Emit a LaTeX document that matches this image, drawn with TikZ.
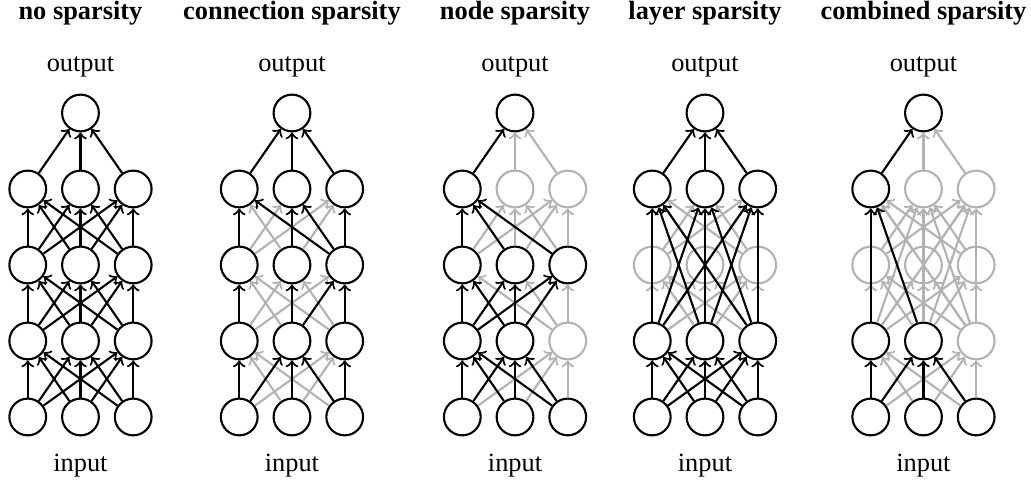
\documentclass[tikz,border=0pt]{standalone}
\usepackage{fontspec}
\setmainfont{Liberation Serif}
\usepackage{tikz}
\usetikzlibrary{arrows,
  calc,
  positioning
}
\tikzset{
  neuron/.style={circle, draw=black, line width=0.8pt, minimum size=0.49cm, inner sep=0pt},
  off/.style={draw=black!30},
  conn/.style={->, line width=0.8pt, color=black},
  offconn/.style={->, line width=0.8pt, color=black!30},
  heading/.style={anchor=base, font=\bfseries},
  io/.style={anchor=base}
}
\newcommand*{\network}[3]{%
  \node[heading] (#1-title) at (#2, 6.173) {#3};
  \node[io] (#1-output) at (#2, 5.471) {output};
  \node[io] (#1-input) at (#2, 0.137) {input};
  \foreach \l in {1,...,4} {
    \foreach \c in {1,2,3} {
      \node[neuron, #1-\l-\c/.try] (#1-\l-\c)
      at ({#2 + (\c - 2) * \colsep}, {\rowbase + (\l - 1) * \rowsep}) {};
    }
  }
  \node[neuron] (#1-5-2) at (#2, {\rowbase + 4 * \rowsep}) {};
}

\begin{document}
\begin{tikzpicture}
  \pgfmathsetmacro{\colsep}{0.703}
  \pgfmathsetmacro{\rowsep}{1.0133}
  \pgfmathsetmacro{\rowbase}{0.867}
  \useasboundingbox (0, 0) rectangle (13.747, 6.427);

  % switched off neurons
  \tikzset{
    p3-2-3/.style={off}, p3-4-2/.style={off}, p3-4-3/.style={off},
    p4-3-1/.style={off}, p4-3-2/.style={off}, p4-3-3/.style={off},
    p5-2-3/.style={off}, p5-3-1/.style={off}, p5-3-2/.style={off},
    p5-3-3/.style={off}, p5-4-2/.style={off}, p5-4-3/.style={off}
  }

  \network{p1}{1.073}{no sparsity}
  \network{p2}{3.893}{connection sparsity}
  \network{p3}{6.867}{node sparsity}
  \network{p4}{9.4}{layer sparsity}
  \network{p5}{12.313}{combined sparsity}

  % no sparsity
  \foreach \l/\m in {1/2, 2/3, 3/4}
  \foreach \s in {1,2,3}
  \foreach \t in {1,2,3}
  \draw[conn] (p1-\l-\s) -- (p1-\m-\t);
  \foreach \s in {1,2,3}
  \draw[conn] (p1-4-\s) -- (p1-5-2);

  % connection sparsity
  \foreach \s/\t in {1-1/2-3, 1-2/2-1, 1-2/2-3, 1-3/2-1,
    2-1/3-2, 2-1/3-3, 2-2/3-1, 2-3/3-1, 2-3/3-2,
    3-1/4-2, 3-1/4-3, 3-2/4-1, 3-2/4-3}
  \draw[offconn] (p2-\s) -- (p2-\t);
  \foreach \s/\t in {1-1/2-1, 1-1/2-2, 1-2/2-2, 1-3/2-2, 1-3/2-3,
    2-1/3-1, 2-2/3-2, 2-2/3-3, 2-3/3-3,
    3-1/4-1, 3-2/4-2, 3-3/4-1, 3-3/4-2, 3-3/4-3,
    4-1/5-2, 4-2/5-2, 4-3/5-2}
  \draw[conn] (p2-\s) -- (p2-\t);

  % node sparsity
  \foreach \s/\t in {1-1/2-3, 1-2/2-3, 1-3/2-3,
    2-3/3-1, 2-3/3-2, 2-3/3-3,
    3-1/4-2, 3-1/4-3, 3-2/4-2, 3-2/4-3, 3-3/4-2, 3-3/4-3,
    4-2/5-2, 4-3/5-2}
  \draw[offconn] (p3-\s) -- (p3-\t);
  \foreach \s/\t in {1-1/2-1, 1-2/2-1, 1-3/2-1, 1-1/2-2, 1-2/2-2, 1-3/2-2,
    2-1/3-1, 2-1/3-2, 2-1/3-3, 2-2/3-1, 2-2/3-2, 2-2/3-3,
    3-1/4-1, 3-2/4-1, 3-3/4-1,
    4-1/5-2}
  \draw[conn] (p3-\s) -- (p3-\t);

  % layer sparsity
  \foreach \l/\m in {2/3, 3/4}
  \foreach \s in {1,2,3}
  \foreach \t in {1,2,3}
  \draw[offconn] (p4-\l-\s) -- (p4-\m-\t);
  \foreach \l/\m in {1/2, 2/4}
  \foreach \s in {1,2,3}
  \foreach \t in {1,2,3}
  \draw[conn] (p4-\l-\s) -- (p4-\m-\t);
  \foreach \s in {1,2,3}
  \draw[conn] (p4-4-\s) -- (p4-5-2);

  % combined sparsity
  \foreach \l/\m in {2/3, 3/4}
  \foreach \s in {1,2,3}
  \foreach \t in {1,2,3}
  \draw[offconn] (p5-\l-\s) -- (p5-\m-\t);
  \foreach \s/\t in {1-2/2-1, 1-3/2-1, 1-1/2-3, 1-2/2-3, 1-3/2-3,
    2-1/4-2, 2-1/4-3, 2-2/4-2, 2-2/4-3, 2-3/4-1, 2-3/4-2, 2-3/4-3,
    4-2/5-2, 4-3/5-2}
  \draw[offconn] (p5-\s) -- (p5-\t);
  \foreach \s/\t in {1-1/2-1, 1-1/2-2, 1-2/2-2, 1-3/2-2,
    2-1/4-1, 2-2/4-1,
    4-1/5-2}
  \draw[conn] (p5-\s) -- (p5-\t);
\end{tikzpicture}
\end{document}
